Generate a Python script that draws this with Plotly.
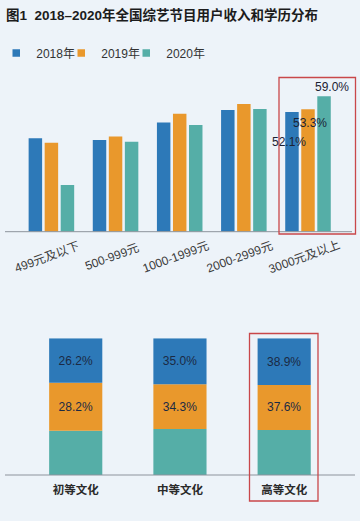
import plotly.graph_objects as go

W, H = 360, 521

# ---- data ----
income_cats = ["499元及以下", "500-999元", "1000-1999元", "2000-2999元", "3000元及以上"]
years = ["2018年", "2019年", "2020年"]
income_2018 = [40.7, 39.9, 47.5, 53.0, 52.1]
income_2019 = [38.7, 41.4, 51.4, 55.6, 53.3]
income_2020 = [20.3, 39.2, 46.4, 53.4, 59.0]

edu_cats = ["初等文化", "中等文化", "高等文化"]
edu_2018 = [26.2, 35.0, 38.9]
edu_2019 = [28.2, 34.3, 37.6]
edu_2020 = [26.1, 35.1, 37.5]

title_text = "图1  2018–2020年全国综艺节目用户收入和学历分布"

# ---- style ----
colors = ["#2d79b8", "#e9982c", "#55aea7"]
bg = "#edf3f9"
NARROW = "Liberation Sans Narrow, Arial Narrow, Liberation Sans, Noto Sans CJK SC, sans-serif"
CJK = "Liberation Sans, Noto Sans CJK SC, sans-serif"


def py(px):
    return 1 - px / H


def px_x(px):
    return px / W


fig = go.Figure()

income_series = [income_2018, income_2019, income_2020]
legend_ids = ["legend", "legend2", "legend3"]
for name, vals, c in zip(years, income_series, colors):
    fig.add_trace(go.Bar(x=income_cats, y=vals, name=name, marker_color=c,
                         marker_line_width=0, xaxis="x", yaxis="y",
                         showlegend=False, legendgroup=name, hoverinfo="skip"))

# legend entries (small squares)
for name, c, lg in zip(years, colors, legend_ids):
    fig.add_trace(go.Scatter(x=[None], y=[None], mode="markers", name=name,
                             marker=dict(symbol="square", size=7.5, color=c),
                             legendgroup=name, legend=lg, xaxis="x", yaxis="y"))

# bottom: 100% stacked bars (2020 at bottom, then 2019, then 2018 on top)
totals = [a + b + c for a, b, c in zip(edu_2018, edu_2019, edu_2020)]
p18 = [v / t * 100 for v, t in zip(edu_2018, totals)]
p19 = [v / t * 100 for v, t in zip(edu_2019, totals)]
p20 = [v / t * 100 for v, t in zip(edu_2020, totals)]
bw = 0.51
stack = [
    (p20, [0] * 3, colors[2], None),
    (p19, p20, colors[1], [f"{v:.1f}%" for v in edu_2019]),
    (p18, [a + b for a, b in zip(p20, p19)], colors[0], [f"{v:.1f}%" for v in edu_2018]),
]
for vals, base, c, txt in stack:
    fig.add_trace(go.Bar(x=edu_cats, y=vals, base=base, marker_color=c,
                         marker_line_width=0, width=bw, offset=-bw / 2,
                         text=txt, textposition="inside" if txt else "none",
                         insidetextanchor="middle", textangle=0,
                         textfont=dict(family=NARROW, size=12, color="#1b2a44"),
                         xaxis="x2", yaxis="y2", showlegend=False, hoverinfo="skip"))

base_top = 231.7
top_px = 80.0
scale = 2.297
ymax = (base_top - top_px) / scale

annotations = [
    dict(text=f"<b>{title_text}</b>", x=px_x(4), y=py(15), xref="paper", yref="paper",
         xanchor="left", yanchor="middle", showarrow=False,
         font=dict(family=CJK, size=13.5, color="#1c1c1c")),
]

# rotated category labels for the top chart
for cat in income_cats:
    annotations.append(dict(text=cat, x=cat, xref="x", y=py(257), yref="paper",
                            xshift=-4, textangle=-20, showarrow=False,
                            font=dict(family=NARROW, size=12, color="#3a3a3a")))

# value labels for last group
last = income_cats[-1]
shifts = [(-19, -30), (2, -13.5), (23.5, 8.7)]
for vals, (dx, dy) in zip(income_series, shifts):
    annotations.append(dict(text=f"{vals[-1]:.1f}%", x=last, y=vals[-1], xref="x", yref="y",
                            xshift=dx, yshift=dy, showarrow=False,
                            font=dict(family=NARROW, size=12, color="#1b2233")))

shapes = [
    dict(type="line", xref="paper", yref="paper", x0=px_x(5), x1=px_x(352),
         y0=py(base_top), y1=py(base_top), line=dict(color="#8d939c", width=1)),
    dict(type="line", xref="paper", yref="paper", x0=px_x(5), x1=px_x(355),
         y0=py(475), y1=py(475), line=dict(color="#8d939c", width=1)),
    dict(type="rect", xref="paper", yref="paper", x0=px_x(279), x1=px_x(355.5),
         y0=py(234), y1=py(77.5), line=dict(color="#c9474a", width=1.3)),
    dict(type="rect", xref="paper", yref="paper", x0=px_x(249.5), x1=px_x(318),
         y0=py(501), y1=py(333.5), line=dict(color="#c9474a", width=1.3)),
]

legend_x_px = [-3.75, 61.25, 126.25]
legend_common = dict(orientation="h", xanchor="left", y=py(53), yanchor="middle",
                     font=dict(family=NARROW, size=12, color="#333333"),
                     bgcolor="rgba(0,0,0,0)", itemwidth=30, borderwidth=0)
legends = {}
for lg, lx in zip(legend_ids, legend_x_px):
    legends[lg] = dict(legend_common, x=px_x(lx))

fig.update_layout(
    width=W, height=H,
    margin=dict(l=0, r=0, t=0, b=0, autoexpand=False),
    paper_bgcolor=bg, plot_bgcolor=bg,
    barmode="group", bargap=0.25, bargroupgap=0.16,
    showlegend=True,
    xaxis=dict(domain=[px_x(10.5), px_x(350.5)], anchor="y", showticklabels=False,
               showgrid=False, zeroline=False, showline=False, ticks="",
               categoryorder="array", categoryarray=income_cats),
    yaxis=dict(domain=[py(base_top), py(top_px)], range=[0, ymax], visible=False,
               showgrid=False, zeroline=False),
    xaxis2=dict(domain=[px_x(23.6), px_x(336.3)], anchor="y2", range=[-0.5, 2.5],
                showgrid=False, zeroline=False, showline=False, ticks="",
                ticklabelstandoff=6,
                tickfont=dict(family=CJK, size=11.5, color="#2a2a2a", weight="bold"),
                categoryorder="array", categoryarray=edu_cats),
    yaxis2=dict(domain=[py(475), py(338.3)], range=[0, 100], visible=False,
                showgrid=False, zeroline=False),
    annotations=annotations,
    shapes=shapes,
    font=dict(family=CJK),
    **legends,
)

fig.write_html("out.html", config={"displayModeBar": False},
               post_script="document.body.style.margin='0';document.body.style.overflow='hidden';")
